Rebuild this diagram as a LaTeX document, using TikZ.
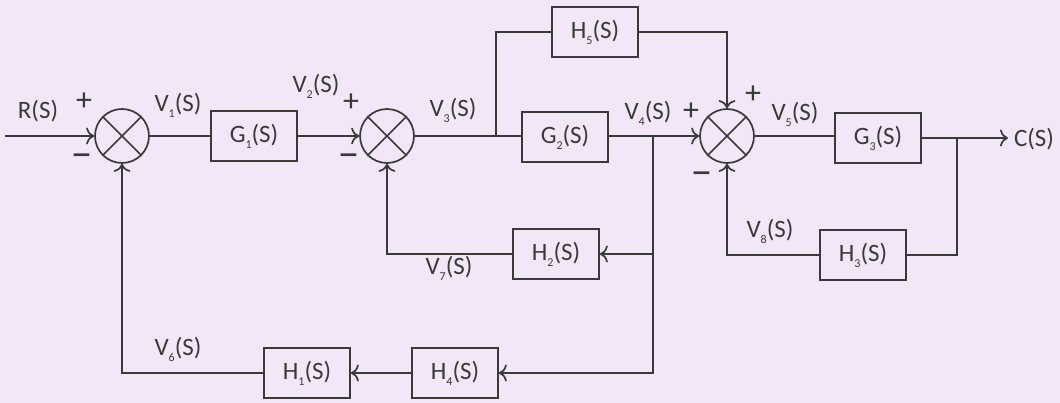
\documentclass[tikz,border=0pt]{standalone}
\usepackage{fontspec}
\setmainfont{Carlito}
\usetikzlibrary{arrows.meta}
% lowered index for block and signal names
\newcommand\ix[1]{\raisebox{-0.5ex}{\fontsize{12}{12}\selectfont #1}}
\newcommand\tf[2]{#1\ix{#2}(S)}
\definecolor{paper}{HTML}{F1E7F6}
\definecolor{ink}{HTML}{3A3A3A}
\begin{document}
\begin{tikzpicture}[x=1pt,y=-1pt,
  font=\fontsize{25}{28}\selectfont, text=ink,
  line width=1.7pt, draw=ink,
  block/.style={draw=ink, rectangle, minimum width=86pt, minimum height=50pt, inner sep=0pt},
  sumnode/.style={draw=ink, circle, minimum size=54pt, inner sep=0pt},
  sig/.style={ink},
  arr/.style={ink, -{To[length=8pt,width=17pt]}},
  lbl/.style={inner sep=0pt},
  plus/.style={inner sep=0pt, font=\fontsize{32}{32}\selectfont},
  minus/.style={inner sep=0pt, font=\fontsize{42}{42}\selectfont}]

\fill[paper] (0,0) rectangle (1060,403);
\useasboundingbox (0,0) rectangle (1060,403);

% summing junctions
\node[sumnode] (s1) at (122,136) {};
\node[sumnode] (s2) at (387,136) {};
\node[sumnode] (s3) at (727,136) {};
\foreach \s in {s1,s2,s3}{
  \draw[sig] (\s.45) -- (\s.225);
  \draw[sig] (\s.135) -- (\s.-45);
}

% blocks
\node[block] (g1) at (254,136) {\tf{G}{1}};
\node[block] (g2) at (565,137) {\tf{G}{2}};
\node[block] (h5) at (595,32)  {\tf{H}{5}};
\node[block] (g3) at (878,138) {\tf{G}{3}};
\node[block] (h3) at (863,255) {\tf{H}{3}};
\node[block] (h2) at (556,254) {\tf{H}{2}};
\node[block] (h1) at (307,373) {\tf{H}{1}};
\node[block] (h4) at (455,373) {\tf{H}{4}};

% branch points and free ends
\coordinate (in)  at (5,136);
\coordinate (b3)  at (496,136);
\coordinate (b4)  at (653,136);
\coordinate (b5)  at (957,138);
\coordinate (out) at (1008,138);

% forward path
\draw[arr] (in) -- (s1.west);
\draw[sig] (s1.east) -- (g1.west);
\draw[arr] (g1.east) -- (s2.west);
\draw[sig] (s2.east) -- (g2.west |- s2.east);
\draw[arr] (g2.east |- s3.west) -- (s3.west);
\draw[sig] (s3.east) -- (g3.west |- s3.east);
\draw[arr] (g3.east) -- (out);

% feedforward through H5
\draw[sig] (b3) |- (h5.west);
\draw[arr] (h5.east) -| (s3.north);

% feedback through H3
\draw[sig] (b5) |- (h3.east);
\draw[arr] (h3.west) -| (s3.south);

% feedback through H2
\draw[arr] (b4 |- h2.east) -- (h2.east);
\draw[arr] (h2.west) -| (s2.south);

% feedback through H4 and H1
\draw[arr] (b4) |- (h4.east);
\draw[arr] (h4.west) -- (h1.east);
\draw[arr] (h1.west) -| (s1.south);

% signal names and signs
\node[lbl]   (lr)  at (38,111)   {R(S)};
\node[plus]  (p1)  at (84,102)   {+};
\node[minus] (m1)  at (82,161)   {−};
\node[lbl]   (lv1) at (178,105)  {\tf{V}{1}};
\node[lbl]   (lv2) at (316,86)   {\tf{V}{2}};
\node[plus]  (p2)  at (351,103)  {+};
\node[minus] (m2)  at (349,161)  {−};
\node[lbl]   (lv3) at (453,110)  {\tf{V}{3}};
\node[lbl]   (lv4) at (648,113)  {\tf{V}{4}};
\node[plus]  (p4)  at (691,112)  {+};
\node[plus]  (p5)  at (753,95)   {+};
\node[lbl]   (lv5) at (795,114)  {\tf{V}{5}};
\node[lbl]   (lc)  at (1034,139) {C(S)};
\node[lbl]   (lv8) at (770,231)  {\tf{V}{8}};
\node[minus] (m3)  at (702,179)  {−};
\node[lbl]   (lv7) at (449,268)  {\tf{V}{7}};
\node[lbl]   (lv6) at (178,349)  {\tf{V}{6}};
\end{tikzpicture}
\end{document}
